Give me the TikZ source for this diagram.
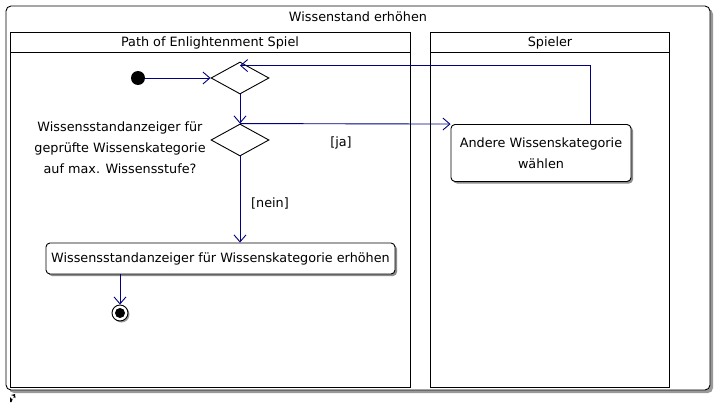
\documentclass[tikz,border=0pt]{standalone}
\usepackage{fontspec}
\setmainfont{DejaVu Sans}
\usetikzlibrary{shapes.geometric,arrows.meta,shadows}
\definecolor{flowblue}{RGB}{0,0,128}
\tikzset{
  lane/.style={draw=black,line width=0.9pt},
  action/.style={draw=black,line width=0.9pt,rounded corners=4pt,fill=white,align=center,
    drop shadow={shadow xshift=2pt,shadow yshift=-2pt,fill=black!45,opacity=1}},
  decision/.style={draw=black,line width=0.9pt,diamond,fill=white,inner sep=0pt,
    minimum width=58pt,minimum height=32pt,aspect=1.8},
  flow/.style={draw=flowblue,line width=0.9pt,-{Straight Barb[length=7pt,width=12pt]}}
}
\begin{document}
\begin{tikzpicture}[x=1pt,y=-1pt,font=\fontsize{12.8}{21}\selectfont]
    \useasboundingbox (0,0) rectangle (716,404);
    % outer frame
    \draw[line width=0.9pt,rounded corners=5pt,fill=white,
      drop shadow={shadow xshift=3pt,shadow yshift=-3pt,fill=black!40,opacity=1}]
      (6,6) rectangle (710,390);
    \node (title) at (358,17) {Wissenstand erhöhen};

    % swimlanes
    \draw[lane] (10,32) rectangle (410,387);
    \draw[lane] (10,52) -- (410,52);
    \node (lane1) at (210,43) {Path of Enlightenment Spiel};
    \draw[lane] (430,32) rectangle (669,387);
    \draw[lane] (430,52) -- (669,52);
    \node (lane2) at (550,43) {Spieler};

    % nodes
    \node[circle,fill=black,minimum size=14pt,inner sep=0pt] (start) at (138,78) {};
    \node[decision] (merge) at (240,78) {};
    \node[decision] (check) at (240,140) {};
    \node[align=center] (question) at (120,148)
      {Wissensstandanzeiger für\\geprüfte Wissenskategorie\\auf max. Wissensstufe?};
    \node[action,minimum width=180pt,minimum height=57pt] (other) at (541,153)
      {Andere Wissenskategorie\\wählen};
    \node[action,minimum width=349pt,minimum height=31pt] (raise) at (220.5,258.5)
      {Wissensstandanzeiger für Wissenskategorie erhöhen};
    \node[circle,draw=black,line width=0.9pt,fill=white,minimum size=16pt,inner sep=0pt,
      drop shadow={shadow xshift=1.5pt,shadow yshift=-1.5pt,fill=black!40,opacity=1}] (stop) at (120,313) {};
    \node[circle,fill=black,minimum size=10pt,inner sep=0pt] at (stop) {};

    % connectors
    \draw[flow] (start) -- (merge.west);
    \draw[flow] (merge.south) -- (check.north);
    \draw[flow] (check.north) -- (other.north west);
    \draw[flow] ([xshift=49pt]other.north) |- ([yshift=-4pt]merge.north);
    \draw[flow] (check.south) -- (raise.north -| check.south);
    \draw[flow] (raise.south -| stop) -- (stop.north);

    \node (ja) at (341,143) {[ja]};
    \node (nein) at (270,203) {[nein]};

    % small icon
    \fill[black] (10,402) -- (10,397) -- (12.5,399.5) -- (14,396) -- (11,395) -- (15,394) -- (15.5,398) -- (13.5,397) -- (11.5,402) -- cycle;
\end{tikzpicture}
\end{document}
